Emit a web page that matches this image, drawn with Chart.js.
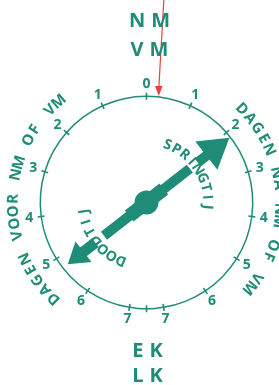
<!DOCTYPE html>
<html>
<head>
<meta charset="utf-8">
<script src="https://cdn.jsdelivr.net/npm/chart.js@4.4.0/dist/chart.umd.min.js"></script>
<style>
  html, body { margin: 0; padding: 0; background: #fff; }
  #wrap { width: 279px; height: 385px; }
</style>
</head>
<body>
<div id="wrap"><canvas id="dial"></canvas></div>
<script>
// ============================ data ============================

// schijf: van NM/VM (boven) tot halverwege (onder) = halve maanmaand
const HALF_MONTH = 7.38;
const dayTicks = [0, 1, 2, 3, 4, 5, 6, 7];
const rightLabels = ["0", "1", "2", "3", "4", "5", "6", "7"];
const leftLabels = ["", "1", "2", "3", "4", "5", "6", "7"];

const springDay = 2.13;   // wijzer: springtij ... dagen na NM of VM
const markDay = 0.27;     // rode streep boven

const topLabels = ["NM", "VM"];
const bottomLabels = ["EK", "LK"];
const arcTextRight = "DAGEN NA NM OF VM";
const arcTextLeft = "DAGEN VOOR NM OF VM";
const innerTextUp = "SPRINGTIJ";
const innerTextDown = "DOODTIJ";

const TEAL = "#1f8c78";
const RED = "#e5443a";
const FONT = "'Open Sans', 'DejaVu Sans', sans-serif";

// segmenten van de ring: rechts 0→7→midden, links midden→7→0
const rightSeg = dayTicks.slice(1).map((d, i) => d - dayTicks[i]);
rightSeg.push(HALF_MONTH - dayTicks[dayTicks.length - 1]);
const segments = rightSeg.concat(rightSeg.slice().reverse());

// ============================ tekenen ============================

function drawArcText(ctx, text, cx, cy, r, startDeg, stepDeg) {
  for (let i = 0; i < text.length; i++) {
    const a = (startDeg + i * stepDeg - 90) * Math.PI / 180;
    ctx.save();
    ctx.translate(cx + r * Math.cos(a), cy + r * Math.sin(a));
    ctx.rotate(a + Math.PI / 2);
    ctx.fillText(text[i], 0, 0);
    ctx.restore();
  }
}

function bar(ctx, cx, cy, ux, uy, r0, r1, w) {
  const nx = -uy, ny = ux, h = w / 2;
  ctx.beginPath();
  ctx.moveTo(cx + ux * r0 + nx * h, cy + uy * r0 + ny * h);
  ctx.lineTo(cx + ux * r1 + nx * h, cy + uy * r1 + ny * h);
  ctx.lineTo(cx + ux * r1 - nx * h, cy + uy * r1 - ny * h);
  ctx.lineTo(cx + ux * r0 - nx * h, cy + uy * r0 - ny * h);
  ctx.closePath();
  ctx.fill();
}

function head(ctx, cx, cy, ux, uy, rBase, rTip, halfW) {
  const nx = -uy, ny = ux;
  ctx.beginPath();
  ctx.moveTo(cx + ux * rBase + nx * halfW, cy + uy * rBase + ny * halfW);
  ctx.lineTo(cx + ux * rTip, cy + uy * rTip);
  ctx.lineTo(cx + ux * rBase - nx * halfW, cy + uy * rBase - ny * halfW);
  ctx.closePath();
  ctx.fill();
}

const dialPlugin = {
  id: "dial",
  afterDatasetsDraw(chart) {
    const ctx = chart.ctx;
    const arcs = chart.getDatasetMeta(0).data;
    const cx = arcs[0].x, cy = arcs[0].y;
    const r = (arcs[0].outerRadius + arcs[0].innerRadius) / 2;
    const total = segments.reduce((a, b) => a + b, 0);
    const start = arcs[0].startAngle;
    const angR = d => start + d / total * Math.PI * 2;
    const angL = d => start + (total - d) / total * Math.PI * 2;

    ctx.save();
    ctx.fillStyle = TEAL;
    ctx.strokeStyle = TEAL;

    // streepjes op elke segmentgrens
    ctx.lineWidth = 1.6;
    arcs.forEach(a => {
      const c = Math.cos(a.startAngle), s = Math.sin(a.startAngle);
      ctx.beginPath();
      ctx.moveTo(cx + c * (r - 3.5), cy + s * (r - 3.5));
      ctx.lineTo(cx + c * (r + 3.5), cy + s * (r + 3.5));
      ctx.stroke();
    });

    // cijfers
    ctx.font = "bold 14px " + FONT;
    ctx.textAlign = "center";
    ctx.textBaseline = "middle";
    const rl = r + 12;
    dayTicks.forEach((d, i) => {
      let a = angR(d);
      ctx.fillText(rightLabels[i], cx + rl * Math.cos(a), cy + rl * Math.sin(a));
      if (leftLabels[i]) {
        a = angL(d);
        ctx.fillText(leftLabels[i], cx + rl * Math.cos(a), cy + rl * Math.sin(a));
      }
    });

    // gebogen teksten buiten de ring
    ctx.font = "bold 15px " + FONT;
    drawArcText(ctx, arcTextRight, cx, cy, r + 27, 45.6, 5.25);
    drawArcText(ctx, arcTextLeft, cx, cy, r + 27, 224, 5.28);

    // wijzer
    const A = angR(springDay);
    const ux = Math.cos(A), uy = Math.sin(A);
    bar(ctx, cx, cy, ux, uy, -54, 55, 10);
    bar(ctx, cx, cy, ux, uy, 65, 80, 10);
    head(ctx, cx, cy, ux, uy, 76, r - 1, 18);
    bar(ctx, cx, cy, ux, uy, -82, -65, 11);
    head(ctx, cx, cy, ux, uy, -80, -100, 13);
    bar(ctx, cx, cy, ux, uy, -22, 22, 14);
    ctx.beginPath();
    ctx.arc(cx, cy, 12, 0, Math.PI * 2);
    ctx.fill();

    // teksten langs de wijzer
    ctx.font = "bold 14px " + FONT;
    drawArcText(ctx, innerTextUp, cx, cy, 61, 20, 9.3);
    drawArcText(ctx, innerTextDown, cx, cy, 63, 203.7, 9.7);

    // rode streep
    const m = angR(markDay);
    const tx = cx + Math.cos(m) * (r + 1), ty = cy + Math.sin(m) * (r + 1);
    const lean = 3 * Math.PI / 180;
    ctx.strokeStyle = RED;
    ctx.fillStyle = RED;
    ctx.lineWidth = 1.2;
    ctx.beginPath();
    ctx.moveTo(tx, ty - 8);
    ctx.lineTo(tx + Math.tan(lean) * ty, 0);
    ctx.stroke();
    ctx.beginPath();
    ctx.moveTo(tx, ty);
    ctx.lineTo(tx - 3.8, ty - 10);
    ctx.lineTo(tx + 3.8, ty - 10);
    ctx.closePath();
    ctx.fill();

    // NM / VM boven, EK / LK onder
    ctx.fillStyle = TEAL;
    ctx.font = "bold 20px " + FONT;
    ctx.letterSpacing = "6px";
    ctx.fillText(topLabels[0], cx + 6, 21);
    ctx.fillText(topLabels[1], cx + 6, 50);
    ctx.fillText(bottomLabels[0], cx + 4, 351);
    ctx.fillText(bottomLabels[1], cx + 4, 376);
    ctx.restore();
  }
};

// ============================ grafiek ============================

new Chart(document.getElementById("dial"), {
  type: "doughnut",
  data: {
    labels: segments.map((_, i) => "seg" + i),
    datasets: [{
      data: segments,
      backgroundColor: TEAL,
      borderWidth: 0
    }]
  },
  options: {
    responsive: true,
    maintainAspectRatio: false,
    animation: false,
    radius: 107,
    cutout: 105,
    rotation: 0,
    layout: { padding: { left: 40, right: 26, top: 96, bottom: 76 } },
    events: [],
    plugins: { legend: { display: false }, tooltip: { enabled: false } }
  },
  plugins: [dialPlugin]
});
</script>
</body>
</html>
